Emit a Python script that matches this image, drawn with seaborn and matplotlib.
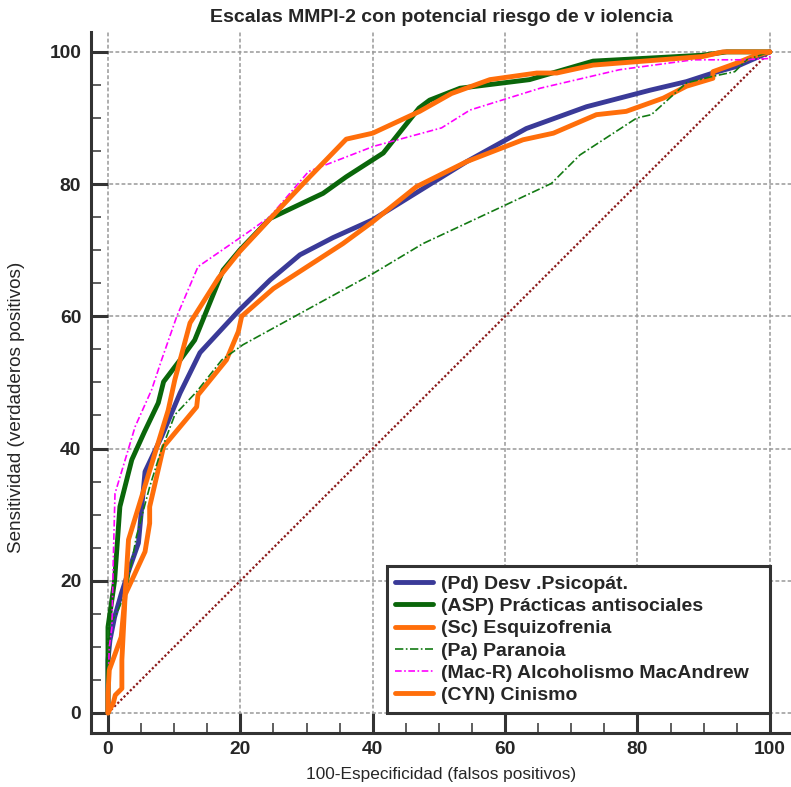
import numpy as np
import pandas as pd
import matplotlib
matplotlib.use("Agg")
import matplotlib.pyplot as plt
from matplotlib.ticker import MultipleLocator
import seaborn as sns

# Curvas ROC (100-especificidad, sensitividad)
pd_fpr = [0, 0, 0.3, 1.0, 2.0, 3.3, 4.6, 5.6, 8.1, 10.9, 13.9, 19.9, 24.5, 29.0, 34.0, 40.0, 47.1, 54.2, 63.2, 72.3, 81.9, 87.4, 91.4, 95.0, 100]
pd_tpr = [0, 8, 11, 14.5, 18, 22, 25.7, 36.5, 41.8, 48.4, 54.5, 61.0, 65.5, 69.3, 71.9, 74.6, 79.0, 83.4, 88.4, 91.7, 94.2, 95.5, 96.8, 97.8, 100]

asp_fpr = [0, 0, 1.0, 1.8, 3.6, 5.5, 7.6, 8.4, 10.9, 13.1, 17.4, 19.9, 24.5, 32.5, 36.0, 41.6, 47.0, 48.6, 53.2, 63.7, 73.3, 89.9, 93.5, 100]
asp_tpr = [0, 13, 20, 31.2, 38.3, 42.5, 46.9, 50.1, 53.4, 56.4, 67.0, 70.0, 74.8, 78.6, 81.1, 84.7, 91.5, 92.7, 94.5, 95.8, 98.6, 99.5, 100, 100]

sc_fpr = [0, 0.8, 1.1, 2.1, 2.1, 2.6, 5.6, 6.3, 6.3, 8.4, 13.4, 13.6, 17.9, 19.7, 20.2, 25.0, 35.5, 40.0, 46.6, 54.2, 62.7, 67.3, 73.8, 78.3, 83.9, 87.4, 91.4, 91.4, 95.0, 97.4, 100]
sc_tpr = [0, 1.5, 2.7, 3.7, 8.0, 17.9, 24.4, 28.7, 31.2, 40.3, 46.3, 48.1, 53.4, 57.7, 60.0, 64.2, 71.0, 74.3, 79.6, 83.4, 86.7, 87.7, 90.5, 91.0, 93.0, 94.8, 96.0, 97.0, 98.3, 99.3, 100]

pa_fpr = [0, 0, 1.3, 2.8, 4.3, 6.3, 7.9, 10.1, 13.4, 17.2, 20.4, 40.1, 47.6, 60.2, 67.0, 71.3, 79.9, 82.1, 87.4, 91.4, 94.7, 96.5, 100]
pa_tpr = [0, 13, 15, 18.6, 26.7, 34.2, 39.3, 45.1, 48.6, 53.4, 55.7, 66.5, 71.0, 76.9, 80.1, 84.4, 90.0, 90.5, 95.3, 96.3, 97.0, 98.8, 100]

mac_fpr = [0, 0, 0.2, 0.6, 0.8, 1.06, 2.6, 4.1, 6.6, 8.1, 10.4, 13.6, 21.0, 24.5, 30.3, 40.1, 50.4, 54.7, 65.3, 77.3, 88.4, 95.5, 100, 100]
mac_tpr = [0, 4, 10, 13, 23, 33.2, 38.3, 43.3, 48.9, 53.4, 60.0, 67.5, 72.6, 75.1, 81.9, 85.7, 88.5, 91.2, 94.5, 97.3, 98.8, 98.8, 99.0, 100]

cyn_fpr = [0, 0, 0.2, 2.0, 2.6, 3.1, 6.8, 9.1, 10.1, 12.4, 16.7, 19.9, 25.0, 30.0, 36.0, 40.0, 47.1, 51.9, 57.7, 64.8, 67.8, 73.3, 89.9, 92.9, 100]
cyn_tpr = [0, 3, 6.5, 11.5, 18.0, 26.2, 38.3, 45.8, 50.4, 59.0, 65.8, 69.8, 75.3, 80.6, 86.8, 87.7, 91.0, 93.7, 95.8, 96.8, 96.8, 98.0, 99.3, 100, 100]

diag = [0, 100]

etiquetas = ['(Pd) Desv .Psicopát.', '(ASP) Prácticas antisociales', '(Sc) Esquizofrenia',
             '(Pa) Paranoia', '(Mac-R) Alcoholismo MacAndrew', '(CYN) Cinismo']
x_ticks = [0, 20, 40, 60, 80, 100]
y_ticks = [0, 20, 40, 60, 80, 100]

sns.set_style("white")
plt.rcParams['font.family'] = ['Liberation Sans', 'DejaVu Sans']

fig = plt.figure(figsize=(7.91, 7.87), dpi=100)
ax = fig.add_axes([0.1150, 0.0686, 0.8850, 0.8907])

# diagonal de referencia
ax.plot(diag, diag, color='#8B1A1A', lw=1.6, linestyle=(0, (1, 1)), zorder=2)

estilos = [
    (pd_fpr, pd_tpr, '#3A3A98', 3.5, '-'),
    (asp_fpr, asp_tpr, '#0A660A', 3.5, '-'),
    (sc_fpr, sc_tpr, '#FF6E0A', 3.5, '-'),
    (pa_fpr, pa_tpr, '#137A13', 1.2, (0, (5, 1.5, 1, 1.5))),
    (mac_fpr, mac_tpr, '#FF00FF', 1.2, (0, (4, 1.5, 1, 1.5))),
    (cyn_fpr, cyn_tpr, '#FF6E0A', 3.5, '-'),
]
for (fx, fy, col, lw, ls), lab in zip(estilos, etiquetas):
    sns.lineplot(x=fx, y=fy, ax=ax, sort=False, estimator=None, color=col,
                 lw=lw, linestyle=ls, label=lab, zorder=3)

ax.set_xlim(-2.57, 103.2)
ax.set_ylim(-3.03, 103.0)

ax.set_xticks(x_ticks, labels=[str(t) for t in x_ticks], fontweight='bold', fontsize=13.8)
ax.set_yticks(y_ticks, labels=[str(t) for t in y_ticks], fontweight='bold', fontsize=13.8)
ax.xaxis.set_minor_locator(MultipleLocator(5))
ax.yaxis.set_minor_locator(MultipleLocator(5))
ax.tick_params(axis='x', which='major', direction='in', length=14.4, width=2.2, color='#333333', pad=5.5, bottom=True)
ax.tick_params(axis='y', which='major', direction='in', length=12.2, width=2.2, color='#333333', pad=7, left=True)
ax.tick_params(axis='both', which='minor', direction='in', length=7, width=1.1, color='#333333', bottom=True, left=True)

ax.grid(True, which='major', color='#999999', linestyle=(0, (2.5, 1.5)), linewidth=1.1)
ax.set_axisbelow(True)

for s in ['top', 'right']:
    ax.spines[s].set_visible(False)
for s in ['left', 'bottom']:
    ax.spines[s].set_linewidth(2.2)
    ax.spines[s].set_color('#333333')

ax.set_title('Escalas MMPI-2 con potencial riesgo de v iolencia', fontsize=14, fontweight='bold', pad=7)
ax.set_xlabel('100-Especificidad (falsos positivos)', fontsize=12.4, labelpad=7)
ax.set_ylabel('Sensitividad (verdaderos positivos)', fontsize=13.6)
ax.yaxis.set_label_coords(-0.094, 0.465)

# leyenda anclada en la esquina (100, 0), con margen extra a la derecha
leg = ax.legend(loc='lower left', bbox_to_anchor=(42.1, 0, 57.9, 22), bbox_transform=ax.transData,
                mode='expand', borderaxespad=0, frameon=True, fancybox=False, framealpha=1,
                edgecolor='#333333', prop={'weight': 'bold', 'size': 14},
                handlelength=1.95, handletextpad=0.4, labelspacing=0.24, borderpad=0.45)
leg.get_frame().set_linewidth(2.2)
leg.set_zorder(5)

plt.savefig('out.png', dpi=100)
plt.close()
